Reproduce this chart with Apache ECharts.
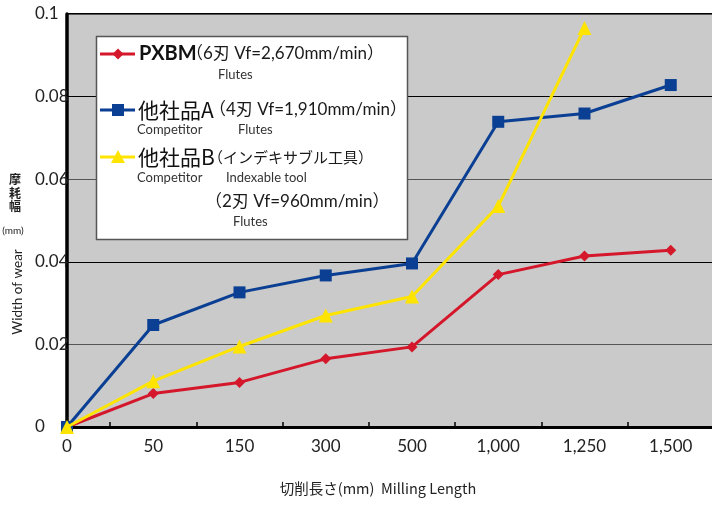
<!DOCTYPE html>
<html><head><meta charset="utf-8">
<script src="https://cdn.jsdelivr.net/npm/echarts@6/dist/echarts.min.js"></script>
<style>html,body{margin:0;padding:0;background:#fff}#c{width:712px;height:509px}</style>
</head><body><div id="c"></div>
<script>
const categories = ['0', '50', '150', '300', '500', '1,000', '1,250', '1,500'];
const pxbm = [0, 0.0081, 0.0108, 0.0165, 0.0194, 0.0369, 0.0414, 0.0428];
const compA = [0, 0.0247, 0.0326, 0.0367, 0.0396, 0.0739, 0.0759, 0.0828];
const compB = [0, 0.0111, 0.0195, 0.0270, 0.0316, 0.0535, 0.0966];
const yTicks = [0, 0.02, 0.04, 0.06, 0.08, 0.1];

const RED = '#d5172b', BLUE = '#0a3f93', YEL = '#ffe400';
const FONT = "Lato, 'Noto Sans CJK JP', sans-serif";
const JFONT = "'Noto Sans CJK JP', Lato, sans-serif";

const toPts = arr => arr.map((v, i) => [i, v]);

function txt(x, y, s, size, extra) {
  return {
    type: 'text', x: x, y: y, z: 20,
    style: Object.assign({ text: s, fontSize: size, fontFamily: FONT, fill: '#1a1a1a', textVerticalAlign: 'middle', textAlign: 'left' }, extra || {})
  };
}
function legLine(y, color) {
  return { type: 'line', z: 20, shape: { x1: 100, y1: y, x2: 135, y2: y }, style: { stroke: color, lineWidth: 3 } };
}

const chart = echarts.init(document.getElementById('c'));
chart.setOption({
  animation: false,
  backgroundColor: '#fff',
  grid: { left: 67, width: 690, top: 14, bottom: 82, containLabel: false, outerBoundsMode: 'none',
    show: true, backgroundColor: '#c9cac9', borderColor: '#000', borderWidth: 2 },
  xAxis: {
    type: 'value', min: 0, max: 8, interval: 1,
    axisLine: { show: true, onZero: false, lineStyle: { color: '#000', width: 3 } },
    axisTick: { show: false, inside: true },
    minorTick: { show: true, splitNumber: 2, length: 5, lineStyle: { color: '#000', width: 1.5 } },
    splitLine: { show: false },
    minorSplitLine: { show: false },
    axisLabel: {
      margin: 11, fontSize: 17, fontFamily: FONT, color: '#222',
      formatter: v => (Number.isInteger(v) && v < categories.length) ? categories[v] : ''
    }
  },
  yAxis: {
    type: 'value', min: yTicks[0], max: yTicks[yTicks.length - 1], interval: 0.02,
    axisLine: { show: true, lineStyle: { color: '#000', width: 3.5 } },
    axisTick: { show: false },
    splitLine: { show: true, lineStyle: { color: ['#000', '#555'], width: 1.2 } },
    axisLabel: { margin: 32, align: 'left', fontSize: 17, fontFamily: FONT, color: '#222',
      formatter: v => String(+v.toFixed(2)) }
  },
  series: [
    { name: 'PXBM', type: 'line', data: toPts(pxbm), symbol: 'diamond', symbolSize: 11,
      lineStyle: { color: RED, width: 3 }, itemStyle: { color: RED }, z: 3 },
    { name: '他社品A', type: 'line', data: toPts(compA), symbol: 'rect', symbolSize: 12,
      lineStyle: { color: BLUE, width: 3 }, itemStyle: { color: BLUE }, z: 4 },
    { name: '他社品B', type: 'line', data: toPts(compB), symbol: 'triangle', symbolSize: 14,
      lineStyle: { color: YEL, width: 3 }, itemStyle: { color: YEL }, z: 5 }
  ],
  graphic: [
    { type: 'rect', z: 19, shape: { x: 96.5, y: 36.5, width: 311, height: 203 },
      style: { fill: '#fff', stroke: '#555', lineWidth: 1.5 } },
    legLine(54, RED),
    { type: 'polygon', z: 21, shape: { points: [[118, 48.5], [123.5, 54], [118, 59.5], [112.5, 54]] }, style: { fill: RED } },
    txt(139, 54, 'PXBM', 20, { fontWeight: 'bold', fill: '#111' }),
    txt(186, 54, '（6刃 Vf=2,670mm/min）', 17),
    txt(218, 75, 'Flutes', 13, { fill: '#333' }),

    legLine(110, BLUE),
    { type: 'rect', z: 21, shape: { x: 112, y: 104, width: 12, height: 12 }, style: { fill: BLUE } },
    txt(138, 110, '他社品A', 21, { fontFamily: JFONT, fill: '#111' }),
    txt(209, 110, '（4刃 Vf=1,910mm/min）', 17),
    txt(137, 130, 'Competitor', 13, { fill: '#333' }),
    txt(238, 130, 'Flutes', 13, { fill: '#333' }),

    legLine(157, YEL),
    { type: 'polygon', z: 21, shape: { points: [[118, 150], [125, 163], [111, 163]] }, style: { fill: YEL } },
    txt(138, 157, '他社品B', 21, { fontFamily: JFONT, fill: '#111' }),
    txt(208, 157, '（インデキサブル工具）', 15, { fontFamily: JFONT }),
    txt(137, 178, 'Competitor', 13, { fill: '#333' }),
    txt(226, 178, 'Indexable tool', 13, { fill: '#333' }),
    txt(205, 202, '（2刃 Vf=960mm/min）', 17),
    txt(233, 222, 'Flutes', 13, { fill: '#333' }),

    { type: 'text', x: 15, y: 193, z: 20, style: { text: '摩\n耗\n幅', fontSize: 12, lineHeight: 13.5, fontWeight: 'bold', fontFamily: JFONT, fill: '#222', textAlign: 'center', textVerticalAlign: 'middle' } },
    { type: 'text', x: 13, y: 231, z: 20, style: { text: '(mm)', fontSize: 10, fontFamily: FONT, fill: '#222', textAlign: 'center', textVerticalAlign: 'middle' } },
    { type: 'text', x: 18, y: 292, rotation: Math.PI / 2, z: 20, style: { text: 'Width of wear', fontSize: 13.5, fontFamily: FONT, fill: '#222', textAlign: 'center', textVerticalAlign: 'middle' } },
    { type: 'text', x: 378, y: 488, z: 20, style: { text: '切削長さ(mm)  Milling Length', fontSize: 14.5, fontFamily: JFONT, fill: '#222', textAlign: 'center', textVerticalAlign: 'middle' } }
  ]
});
</script></body></html>
